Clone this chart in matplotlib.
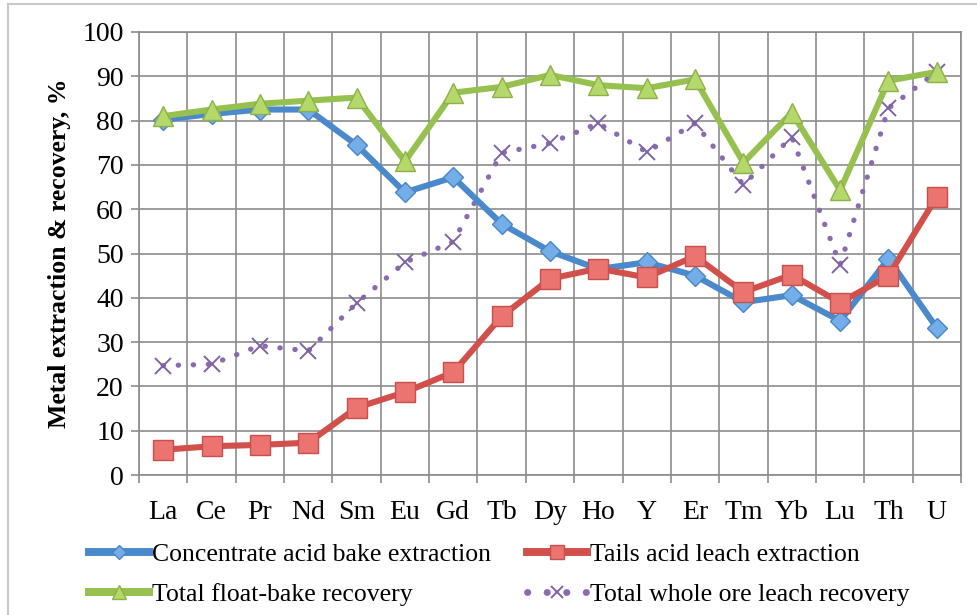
import matplotlib
matplotlib.use("Agg")
import matplotlib.pyplot as plt
from matplotlib.lines import Line2D

elements = ["La", "Ce", "Pr", "Nd", "Sm", "Eu", "Gd", "Tb", "Dy", "Ho",
            "Y", "Er", "Tm", "Yb", "Lu", "Th", "U"]
conc_bake = [80.2, 81.5, 82.5, 82.5, 74.5, 63.8, 67.2, 56.7, 50.5, 46.5,
             48.0, 45.0, 39.0, 40.6, 34.8, 48.8, 33.2]
tails_leach = [5.7, 6.5, 6.8, 7.3, 15.2, 18.7, 23.2, 35.8, 44.3, 46.6,
               44.6, 49.4, 41.3, 45.2, 38.9, 45.0, 62.8]
float_bake = [81.0, 82.5, 83.8, 84.5, 85.2, 70.8, 86.3, 87.6, 90.3, 88.0,
              87.3, 89.3, 70.5, 81.8, 64.3, 89.0, 91.0]
whole_ore = [24.7, 25.0, 29.2, 28.0, 38.8, 48.0, 52.7, 72.7, 74.9, 79.4,
             72.9, 79.4, 65.5, 76.3, 47.4, 82.8, 91.0]

plt.rcParams["font.family"] = ["Liberation Serif", "DejaVu Serif"]

fig = plt.figure(figsize=(9.77, 6.15), dpi=100)
ax = fig.add_axes([0.1423, 0.2276, 0.8413, 0.7204])

x = list(range(len(elements)))

ax.plot(x, whole_ore, color="#8a6bb0", lw=3.8, linestyle=(0, (0.05, 2.8)),
        dash_capstyle="round", marker="x", markersize=12, markeredgewidth=1.4,
        markeredgecolor="#8064a2", zorder=3,
        label="Total whole ore leach recovery")
ax.plot(x, conc_bake, color="#4a89cc", lw=4.4, marker="D", markersize=10.5,
        markerfacecolor="#74aee8", markeredgecolor="#4a86c5", markeredgewidth=1,
        zorder=4, label="Concentrate acid bake extraction")
ax.plot(x, tails_leach, color="#d2504c", lw=4.4, marker="s", markersize=14,
        markerfacecolor="#ec7470", markeredgecolor="#c8504c", markeredgewidth=1,
        zorder=5, label="Tails acid leach extraction")
ax.plot(x, float_bake, color="#96c14f", lw=4.4, marker="^", markersize=14,
        markerfacecolor="#b4d96a", markeredgecolor="#8db048", markeredgewidth=1,
        zorder=6, label="Total float-bake recovery")

ax.set_xlim(-0.5, len(elements) - 0.5)
ax.set_ylim(0, 100)
ax.set_yticks(range(0, 101, 10))
ax.set_xticks(x)
ax.set_xticklabels(elements)
ax.set_xticks([i - 0.5 for i in range(len(elements) + 1)], minor=True)
ax.tick_params(axis="x", which="major", length=0, pad=18, labelsize=20)
ax.tick_params(axis="x", which="minor", length=6, color="#8c8c8c", width=1.2)
ax.tick_params(axis="y", length=6, color="#8c8c8c", width=1.2, pad=5,
               labelsize=20)
ax.grid(True, which="minor", axis="x", color="#8c8c8c", lw=1.2)
ax.grid(True, which="major", axis="y", color="#8c8c8c", lw=1.2)
for s in ax.spines.values():
    s.set_color("#8c8c8c")
    s.set_linewidth(1.2)

ax.set_ylabel("Metal extraction & recovery, %", fontsize=18.5,
              fontweight="bold", labelpad=8)

h = {l.get_label(): l for l in ax.get_lines()}
order = ["Concentrate acid bake extraction", "Total float-bake recovery",
         "Tails acid leach extraction", "Total whole ore leach recovery"]
leg = fig.legend([h[k] for k in order], order, loc="center left",
                 bbox_to_anchor=(0.067, 0.066), ncol=2, frameon=False,
                 fontsize=18.5, handlelength=2.35, handletextpad=0.12,
                 columnspacing=1.4, labelspacing=0.65, markerscale=0.7)
for ln in leg.get_lines():
    ln.set_linewidth(ln.get_linewidth() * 1.3)

# outer chart border (light gray)
fig.add_artist(Line2D([0.0082, 0.0082], [0.0, 0.9935], color="#c8c8c8", lw=1.5))
fig.add_artist(Line2D([0.0082, 1.0], [0.9935, 0.9935], color="#c8c8c8", lw=1.5))

fig.savefig("out.png", dpi=100)
